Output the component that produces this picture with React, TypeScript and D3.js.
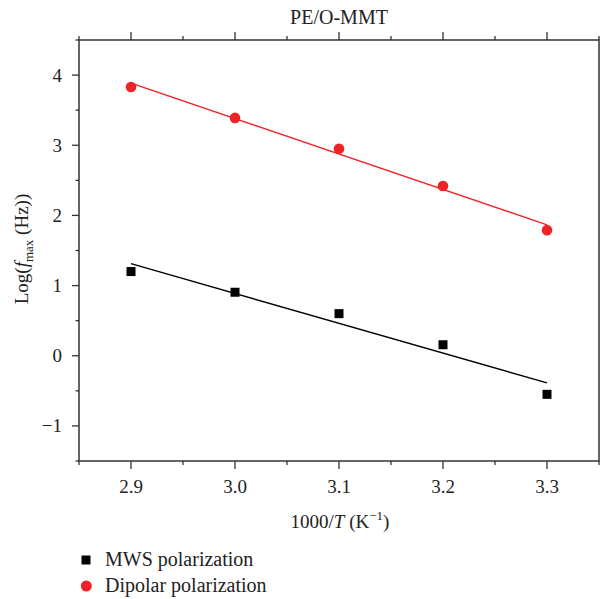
import React, { useEffect, useRef } from "react";
import * as d3 from "d3";

const xValues = [2.9, 3.0, 3.1, 3.2, 3.3];
const mwsValues = [1.2, 0.905, 0.6, 0.157, -0.55];
const dipolarValues = [3.83, 3.39, 2.95, 2.42, 1.79];
const xTicks = [2.9, 3.0, 3.1, 3.2, 3.3];
const yTicks = [-1, 0, 1, 2, 3, 4];

const W = 601;
const H = 599;
const margin = { left: 79, right: 2, top: 40, bottom: 138 };
const RED = "#ee2227";
const FONT = "'Liberation Serif', 'Times New Roman', serif";

// least-squares line through the points
function fit(xs: number[], ys: number[]) {
  const mx = d3.mean(xs)!;
  const my = d3.mean(ys)!;
  const sxy = d3.sum(xs, (x, i) => (x - mx) * (ys[i] - my));
  const sxx = d3.sum(xs, (x) => (x - mx) * (x - mx));
  const b = sxy / sxx;
  return (x: number) => my + b * (x - mx);
}

export default function App() {
  const ref = useRef<SVGSVGElement>(null);

  useEffect(() => {
    const svg = d3.select(ref.current);
    svg.selectAll("*").remove();

    const x = d3.scaleLinear().domain([2.85, 3.35]).range([margin.left, W - margin.right]);
    const y = d3.scaleLinear().domain([-1.5, 4.5]).range([H - margin.bottom, margin.top]);
    const x0 = x.range()[0], x1 = x.range()[1];
    const y0 = y.range()[0], y1 = y.range()[1];

    const g = svg.append("g");

    // frame
    g.append("rect")
      .attr("x", x0).attr("y", y1)
      .attr("width", x1 - x0).attr("height", y0 - y1)
      .attr("fill", "none").attr("stroke", "#333").attr("stroke-width", 1.5);

    const minorX = d3.range(2.85, 3.36, 0.05).map((v) => +v.toFixed(2));
    const minorY = d3.range(-1.5, 4.51, 0.5);

    // bottom + top ticks
    minorX.forEach((v) => {
      const major = xTicks.some((t) => Math.abs(t - v) < 1e-6);
      const len = major ? 8 : 4;
      g.append("line").attr("x1", x(v)).attr("x2", x(v)).attr("y1", y0).attr("y2", y0 + len)
        .attr("stroke", "#333").attr("stroke-width", 1.3);
      g.append("line").attr("x1", x(v)).attr("x2", x(v)).attr("y1", y1).attr("y2", y1 - len)
        .attr("stroke", "#333").attr("stroke-width", 1.3);
    });
    // left ticks
    minorY.forEach((v) => {
      const major = yTicks.some((t) => Math.abs(t - v) < 1e-6);
      const len = major ? 7 : 3.5;
      g.append("line").attr("x1", x0).attr("x2", x0 - len).attr("y1", y(v)).attr("y2", y(v))
        .attr("stroke", "#333").attr("stroke-width", 1.3);
    });

    g.selectAll(".xl").data(xTicks).enter().append("text")
      .attr("x", (d) => x(d)).attr("y", 493)
      .attr("text-anchor", "middle").attr("font-family", FONT).attr("font-size", 19).attr("fill", "#222")
      .text((d) => d.toFixed(1));

    g.selectAll(".yl").data(yTicks).enter().append("text")
      .attr("x", 62).attr("y", (d) => y(d) + 6.5)
      .attr("text-anchor", "end").attr("font-family", FONT).attr("font-size", 19).attr("fill", "#222")
      .text((d) => (d < 0 ? "\u2212" + Math.abs(d) : String(d)));

    // fit lines
    const lineFor = (vals: number[], color: string) => {
      const f = fit(xValues, vals);
      const ends = [xValues[0], xValues[xValues.length - 1]];
      g.append("path")
        .attr("d", d3.line<number>().x((d) => x(d)).y((d) => y(f(d)))(ends))
        .attr("fill", "none").attr("stroke", color).attr("stroke-width", 1.4);
    };
    lineFor(mwsValues, "#000");
    lineFor(dipolarValues, RED);

    // markers
    g.selectAll(".sq").data(xValues).enter().append("rect")
      .attr("x", (d) => x(d) - 4.5).attr("y", (d, i) => y(mwsValues[i]) - 4.5)
      .attr("width", 9).attr("height", 9).attr("fill", "#000");
    g.selectAll(".ci").data(xValues).enter().append("circle")
      .attr("cx", (d) => x(d)).attr("cy", (d, i) => y(dipolarValues[i]))
      .attr("r", 5.3).attr("fill", RED);

    // title
    g.append("text").attr("x", (x0 + x1) / 2).attr("y", 24)
      .attr("text-anchor", "middle").attr("font-family", FONT).attr("font-size", 20).attr("fill", "#222")
      .text("PE/O-MMT");

    // x label
    const xl = g.append("text").attr("x", 340).attr("y", 528)
      .attr("text-anchor", "middle").attr("font-family", FONT).attr("font-size", 19).attr("fill", "#222");
    xl.append("tspan").text("1000/");
    xl.append("tspan").attr("font-style", "italic").text("T");
    xl.append("tspan").text(" (K");
    xl.append("tspan").attr("dy", -8).attr("font-size", 13).text("\u22121");
    xl.append("tspan").attr("dy", 8).text(")");

    // y label
    const yl = g.append("text").attr("transform", `translate(28,249) rotate(-90)`)
      .attr("text-anchor", "middle").attr("font-family", FONT).attr("font-size", 19).attr("fill", "#222");
    yl.append("tspan").text("Log(");
    yl.append("tspan").attr("font-style", "italic").text("f");
    yl.append("tspan").attr("dy", 5).attr("font-size", 13).text("max");
    yl.append("tspan").attr("dy", -5).text(" (Hz))");

    // legend
    const leg = [
      { label: "MWS polarization", y: 560, kind: "sq" },
      { label: "Dipolar polarization", y: 586, kind: "ci" },
    ];
    leg.forEach((l) => {
      if (l.kind === "sq") {
        g.append("rect").attr("x", 81.5).attr("y", l.y - 4.5).attr("width", 9).attr("height", 9).attr("fill", "#000");
      } else {
        g.append("circle").attr("cx", 86.3).attr("cy", l.y).attr("r", 5.5).attr("fill", RED);
      }
      g.append("text").attr("x", 105).attr("y", l.y + 5.5)
        .attr("font-family", FONT).attr("font-size", 20).attr("fill", "#222").text(l.label);
    });
  }, []);

  return (
    <svg ref={ref} width={W} height={H} style={{ position: "absolute", left: 0, top: 0 }} />
  );
}
